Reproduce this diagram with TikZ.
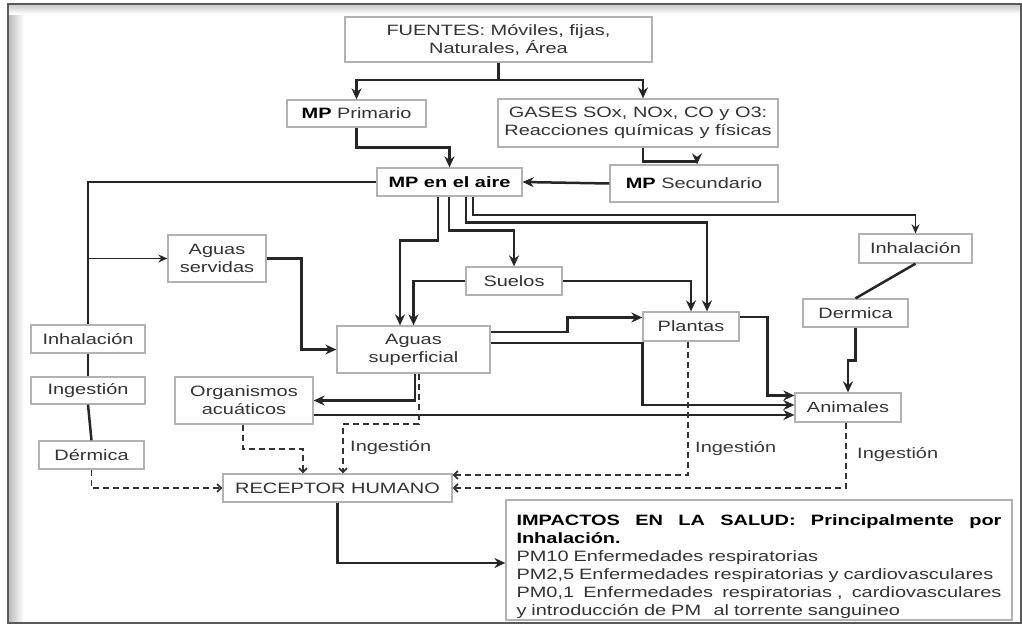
\documentclass[tikz,border=0pt]{standalone}
\usepackage{fontspec}
\setmainfont{Liberation Sans}[FakeStretch=1.33]
\usetikzlibrary{arrows.meta,calc}
\newcommand{\gapfill}{\hspace{0pt plus 1fil}}
\begin{document}
\begin{tikzpicture}[x=1pt,y=-1pt,
  box/.style={draw=gray!60, line width=1.3pt, fill=white, text=black!80, inner sep=0pt, align=center, font=\fontsize{15}{18}\selectfont},
  conn/.style={draw=black!85, line width=2.5pt},
  arr/.style={conn, -{Stealth[length=11pt,width=10pt]}},
  arrthin/.style={draw=black!85, line width=1.8pt, -{Stealth[length=9pt,width=8pt]}},
  darr/.style={draw=black!80, line width=1.8pt, dash pattern=on 6pt off 4pt, -{Straight Barb[length=4pt,width=8pt]}},
  lbl/.style={text=black!78, font=\fontsize{15}{18}\selectfont, anchor=west, inner sep=0pt},
]
\useasboundingbox (0,0) rectangle (1022,627);
% frame
\fill[left color=gray!55, right color=white] (8,4) rectangle (24,623);
\fill[top color=gray!45, bottom color=white] (8,4) rectangle (1021,14);
\draw[black!65, line width=1.2pt] (8,4) rectangle (1021,623);

% nodes
\node[box, minimum width=307, minimum height=45] (fuentes) at (498.5,39.5) {FUENTES: Móviles, fijas,\\Naturales, Área};
\node[box, minimum width=139, minimum height=27] (mpprim) at (356.5,113.5) {\textbf{\color{black}MP} Primario};
\node[box, minimum width=280, minimum height=48] (gases) at (638,123) {GASES SOx, NOx, CO y O3:\\Reacciones químicas y físicas};
\node[box, minimum width=145, minimum height=28] (aire) at (449.5,182) {\textbf{\color{black}MP en el aire}};
\node[box, minimum width=168, minimum height=37] (mpsec) at (694,183.5) {\textbf{\color{black}MP} Secundario};
\node[box, minimum width=98, minimum height=47] (servidas) at (217,258.5) {Aguas\\servidas};
\node[box, minimum width=96, minimum height=28] (suelos) at (514,281) {Suelos};
\node[box, minimum width=113, minimum height=29] (inhR) at (915.5,248.5) {Inhalación};
\node[box, minimum width=96, minimum height=29] (plantas) at (691,326.5) {Plantas};
\node[box, minimum width=105, minimum height=28] (dermR) at (855.5,313) {Dermica};
\node[box, minimum width=114, minimum height=28] (inhL) at (88,339) {Inhalación};
\node[box, minimum width=153, minimum height=47] (superf) at (413.5,349.5) {Aguas\\superficial};
\node[box, minimum width=114, minimum height=27] (ingL) at (88,390.5) {Ingestión};
\node[box, minimum width=138, minimum height=47] (organ) at (244,400.5) {Organismos\\acuáticos};
\node[box, minimum width=106, minimum height=29] (animales) at (848,407.5) {Animales};
\node[box, minimum width=105, minimum height=28] (dermL) at (91.5,455) {Dérmica};
\node[box, minimum width=229, minimum height=28] (receptor) at (337.5,488) {RECEPTOR HUMANO};
\node[box, minimum width=506, minimum height=120, text width=485pt, align=left] (impactos) at (759,560) {%
\leavevmode\rule{0pt}{25pt}\hbox to 485pt{\color{black}\bfseries IMPACTOS\gapfill EN\gapfill LA\gapfill SALUD:\gapfill Principalmente\gapfill por}\\
{\color{black}\bfseries Inhalación.}\\
PM10 Enfermedades respiratorias\\
PM2,5 Enfermedades respiratorias y cardiovasculares\\
\leavevmode\hbox to 485pt{PM0,1\gapfill Enfermedades\gapfill respiratorias ,\gapfill cardiovasculares}\\
y introducción de PM\hspace{0.5em} al torrente sanguineo};

\node[lbl] (ing1) at (350,448) {Ingestión};
\node[lbl] (ing2) at (695,449) {Ingestión};
\node[lbl] (ing3) at (857,455) {Ingestión};

% connectors
\coordinate (fsplit) at (498.5,80);
\draw[conn] (fuentes.south) -- (fsplit);
\draw[arr] (fsplit) -| (mpprim.north);
\draw[arr] (fsplit) -| ($(gases.north)+(5,0)$);
\draw[arr] (mpprim.south) -- ++(0,20) -| (aire.north);
\draw[arr] ($(gases.south)+(5,0)$) -- ++(0,14) -| ($(mpsec.north)+(3,0)$);
\draw[arr] (mpsec.west) -- (aire.east);
\draw[conn] (aire.west) -| (inhL.north);
\coordinate (br) at (88,258.5);
\draw[arrthin] (br) -- (servidas.west);
\draw[conn] (inhL.south) -- (ingL.north);
\draw[conn] (ingL.south) -- (dermL.north);
\draw[darr] (dermL.south) |- (receptor.west);
\draw[arr] (servidas.east) -| ($(superf.west)+(-35,0)$) -- (superf.west);

\draw[arr] ($(aire.south)+(-11.5,0)$) -- ++(0,44) -| ($(superf.north)+(-13.5,0)$);
\draw[arr] ($(aire.south)+(-0.5,0)$) -- ++(0,34) -| (suelos.north);
\draw[arr] ($(aire.south)+(16.5,0)$) -- ++(0,26) -| ($(plantas.north)+(16,0)$);
\draw[arrthin] ($(aire.south)+(23.5,0)$) -- ++(0,18) -| (inhR.north);
\draw[arr] (suelos.west) -| (superf.north);
\draw[arr] (suelos.east) -| (plantas.north);

\draw[arr] ($(superf.east)+(0,-17.5)$) -- ++(77,0) |- ($(plantas.west)+(0,-9)$);
\draw[arr] ($(superf.east)+(0,-6.5)$) -- ++(152,0) |- ($(animales.west)+(0,-2.5)$);
\draw[arr] ($(plantas.east)+(0,-9.5)$) -- ++(28,0) |- ($(animales.west)+(0,-12)$);
\draw[arr] ($(organ.east)+(0,14.5)$) -- ($(animales.west)+(0,7.5)$);
\draw[arr] ($(superf.south)+(1.5,0)$) |- (organ.east);

\draw[darr] ($(superf.south)+(5.5,0)$) -- ++(0,50) -| ($(receptor.north)+(5.5,0)$);
\draw[darr] ($(organ.south)+(-1,0)$) -- ++(0,24) -| ($(receptor.north)+(-34.5,0)$);
\draw[darr] ($(plantas.south)+(-3,0)$) |- ($(receptor.east)+(0,-13)$);
\draw[darr] ($(animales.south)+(-2,0)$) |- (receptor.east);

\draw[conn] (inhR.south) -- (dermR.north);
\draw[arr] (dermR.south) -- ++(0,33) -| (animales.north);
\draw[arr] (receptor.south) |- ($(impactos.west)+(0,3)$);
\end{tikzpicture}
\end{document}
